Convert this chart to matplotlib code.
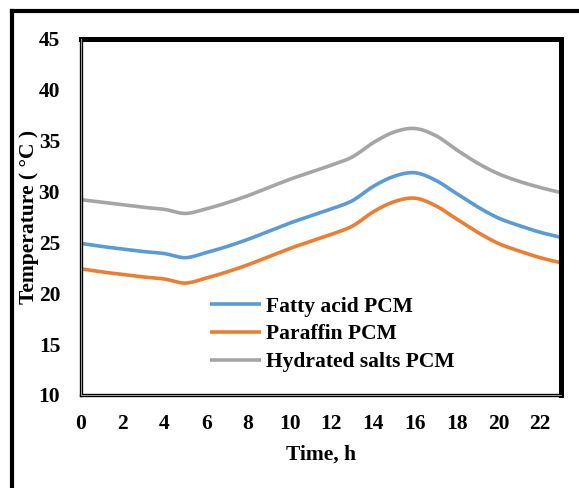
import numpy as np
import matplotlib
matplotlib.use("Agg")
import matplotlib.pyplot as plt
from matplotlib.lines import Line2D

plt.rcParams['font.family'] = ['Liberation Serif', 'DejaVu Serif']
plt.rcParams['font.weight'] = 'bold'

hours = list(range(24))
fatty_acid = [24.9, 24.6, 24.35, 24.1, 23.9, 23.5, 24.0, 24.6, 25.3, 26.1, 26.9, 27.6,
              28.3, 29.1, 30.5, 31.5, 31.85, 31.1, 29.8, 28.5, 27.4, 26.65, 26.0, 25.5]
paraffin = [22.4, 22.1, 21.85, 21.6, 21.4, 21.0, 21.5, 22.1, 22.8, 23.6, 24.4, 25.1,
            25.8, 26.6, 28.0, 29.0, 29.35, 28.6, 27.3, 26.0, 24.9, 24.15, 23.5, 23.0]
hydrated_salts = [29.2, 28.95, 28.7, 28.45, 28.25, 27.85, 28.3, 28.9, 29.6, 30.4, 31.2, 31.9,
                  32.6, 33.4, 34.8, 35.85, 36.2, 35.5, 34.1, 32.8, 31.75, 31.0, 30.4, 29.9]
series_names = ["Fatty acid PCM", "Paraffin PCM", "Hydrated salts PCM"]
series_colors = ["#5B9BD5", "#ED7D31", "#A5A5A5"]
x_ticks = list(range(0, 23, 2))
y_ticks = list(range(10, 46, 5))


def smooth(x, y, n=20):
    """Catmull-Rom spline through the points (spreadsheet-style smoothed line)."""
    x = np.asarray(x, float)
    y = np.asarray(y, float)
    px = np.concatenate([[2 * x[0] - x[1]], x, [2 * x[-1] - x[-2]]])
    py = np.concatenate([[2 * y[0] - y[1]], y, [2 * y[-1] - y[-2]]])
    xs, ys = [], []
    t = np.linspace(0, 1, n, endpoint=False)
    for i in range(1, len(px) - 2):
        p0, p1, p2, p3 = py[i - 1], py[i], py[i + 1], py[i + 2]
        q0, q1, q2, q3 = px[i - 1], px[i], px[i + 1], px[i + 2]
        for a, b, c, d, out in ((q0, q1, q2, q3, xs), (p0, p1, p2, p3, ys)):
            out.extend(0.5 * (2 * b + (-a + c) * t + (2 * a - 5 * b + 4 * c - d) * t ** 2
                              + (-a + 3 * b - 3 * c + d) * t ** 3))
    xs.append(x[-1])
    ys.append(y[-1])
    return np.array(xs), np.array(ys)


fig = plt.figure(figsize=(5.79, 4.88), dpi=100)
ax = fig.add_axes([0.1399, 0.1906, 0.8290, 0.7295])

for vals, name, col in zip([fatty_acid, paraffin, hydrated_salts], series_names, series_colors):
    sx, sy = smooth(hours, vals)
    ax.plot(sx, sy, color=col, lw=2.6, label=name, solid_capstyle='butt')

ax.set_xlim(0, 23)
ax.set_ylim(10, 45)
ax.set_xticks(x_ticks)
ax.set_yticks(y_ticks)
ax.tick_params(axis='both', length=0, labelsize=15.5)
ax.tick_params(axis='x', pad=14)
ax.tick_params(axis='y', pad=15)
for lab in ax.get_xticklabels() + ax.get_yticklabels():
    lab.set_fontweight('bold')

# plot-area frame: heavy top/right, double line on left/bottom
for side in ('top', 'right'):
    ax.spines[side].set_linewidth(3.6)
    ax.spines[side].set_color('black')
for side in ('left', 'bottom'):
    ax.spines[side].set_linewidth(2.4)
    ax.spines[side].set_color('black')
ax.add_line(Line2D([0, 0], [0, 1], transform=ax.transAxes, color='#A0A0A0',
                   lw=0.7, clip_on=False, zorder=5))
ax.add_line(Line2D([0, 1], [0, 0], transform=ax.transAxes, color='#A0A0A0',
                   lw=0.7, clip_on=False, zorder=5))

ax.set_xlabel("Time, h", fontsize=15.5, fontweight='bold')
ax.set_ylabel("Temperature ( °C )", fontsize=15.5, fontweight='bold')
ax.xaxis.set_label_coords(0.5, -0.14)
ax.yaxis.set_label_coords(-0.088, 0.5)

leg = ax.legend(loc='upper left', bbox_to_anchor=(0.25, 0.30), frameon=False,
                fontsize=15.5, handlelength=2.4, handletextpad=0.2, labelspacing=0.35,
                borderaxespad=0)
for t in leg.get_texts():
    t.set_fontweight('bold')

# outer border lines along the left and top of the figure
W, H = 579, 488
fig.add_artist(Line2D([12 / W, 12 / W], [0, 1 - 11 / H], transform=fig.transFigure,
                      color='black', lw=3.0))
fig.add_artist(Line2D([12 / W, 1], [1 - 11 / H, 1 - 11 / H], transform=fig.transFigure,
                      color='black', lw=3.0))

fig.savefig("out.png", dpi=100)
